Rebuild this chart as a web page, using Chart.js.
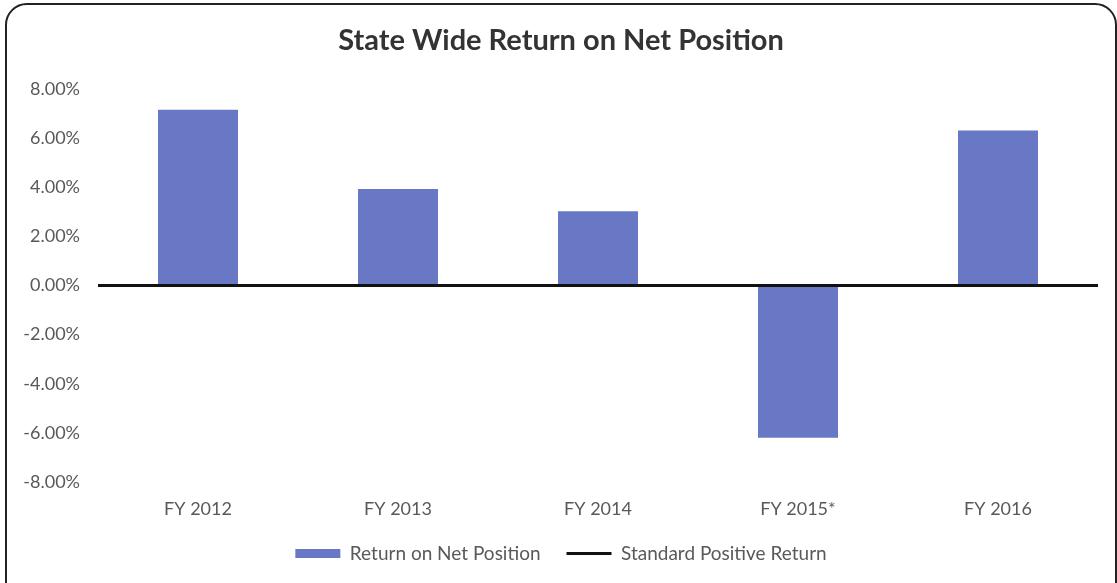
<!DOCTYPE html>
<html>
<head>
<meta charset="utf-8">
<script src="https://cdn.jsdelivr.net/npm/chart.js"></script>
<style>
  body { margin: 0; background: #fff; overflow: hidden; }
  #frame {
    position: absolute; left: 5px; top: 3px; width: 1108px; height: 600px;
    border: 2px solid #222; border-radius: 22px;
  }
  canvas { position: absolute; left: 0; top: 0; }
</style>
</head>
<body>
<div id="frame"></div>
<canvas id="myChart" width="1117" height="583"></canvas>
<script>
var categories = ["FY 2012", "FY 2013", "FY 2014", "FY 2015*", "FY 2016"];
var returnValues = [7.15, 3.92, 3.02, -6.2, 6.3];
var standardValues = [0, 0, 0, 0, 0];
var tickFont = { family: "Lato", size: 18 };

new Chart("myChart", {
  type: "bar",
  data: {
    labels: categories,
    datasets: [{
      label: "Return on Net Position",
      data: returnValues,
      backgroundColor: "#6878c4",
      grouped: false,
      categoryPercentage: 1,
      barPercentage: 0.4,
      pointStyle: "rect",
      order: 1
    }, {
      type: "line",
      label: "Standard Positive Return",
      data: standardValues,
      xAxisID: "x2",
      borderColor: "#111",
      backgroundColor: "#111",
      borderWidth: 3,
      pointRadius: 0,
      pointStyle: "line",
      order: 0
    }]
  },
  options: {
    responsive: false,
    animation: false,
    layout: { padding: { left: 24, right: 19, top: 14, bottom: 10 } },
    plugins: {
      title: {
        display: true,
        text: "State Wide Return on Net Position",
        color: "#333",
        font: { family: "Lato", size: 29, weight: "bold" },
        padding: { top: 9, bottom: 31 }
      },
      legend: {
        position: "bottom",
        labels: {
          usePointStyle: true,
          pointStyleWidth: 45,
          boxHeight: 9,
          padding: 26,
          color: "#595959",
          font: { family: "Lato", size: 19 },
          sort: function (a, b) { return a.datasetIndex - b.datasetIndex; }
        }
      },
      tooltip: { enabled: false }
    },
    scales: {
      x: {
        grid: { display: false, drawTicks: false },
        border: { display: false },
        ticks: { color: "#595959", font: tickFont, padding: 16 },
        afterFit: function (s) { s.height = 36; }
      },
      x2: {
        display: false,
        offset: false,
        labels: categories
      },
      y: {
        min: -8,
        max: 8,
        grid: { display: false, drawTicks: false },
        border: { display: false },
        ticks: {
          stepSize: 2,
          color: "#595959",
          font: tickFont,
          padding: 18,
          callback: function (v) { return v.toFixed(2) + "%"; }
        },
        afterFit: function (s) { s.width = 74; }
      }
    }
  }
});
</script>
</body>
</html>
